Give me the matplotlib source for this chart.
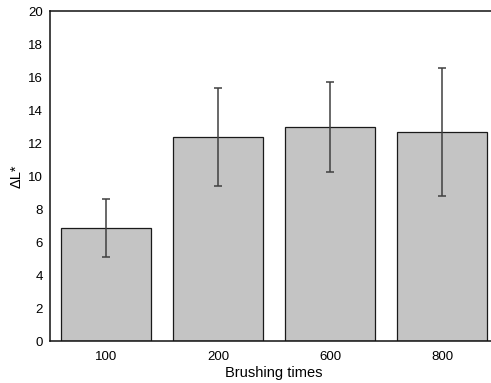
import matplotlib.pyplot as plt
import numpy as np

# Data
brushing_times = ["100", "200", "600", "800"]
delta_L = [6.87, 12.35, 13.0, 12.67]
delta_L_err = [1.77, 2.97, 2.72, 3.88]

plt.rcParams['font.family'] = ['Liberation Sans', 'DejaVu Sans']

fig = plt.figure(figsize=(4.91, 3.83), dpi=100)
# axes run slightly past the right edge of the picture, like the original crop
ax = fig.add_axes([50/491, (383-341.3)/383, (498-50)/491, (341.3-11)/383])

x = np.arange(len(brushing_times))
ax.bar(x, delta_L, width=0.8, color="#c4c4c4", edgecolor="#1a1a1a", linewidth=0.9,
       yerr=delta_L_err, error_kw=dict(ecolor="#404040", elinewidth=1.1, capsize=2.7, capthick=1.1))

ax.set_xlim(-0.5, 3.5)
ax.set_ylim(0, 20)
ax.set_yticks(np.arange(0, 21, 2))
ax.set_xticks(x)
ax.set_xticklabels(brushing_times)
ax.tick_params(axis="y", length=0, labelsize=9.5, pad=5)
ax.tick_params(axis="x", length=0, labelsize=9.5, pad=7)
for s in ax.spines.values():
	s.set_linewidth(1.1)
	s.set_color("#111111")

ax.set_xlabel("Brushing times", fontsize=10.5, labelpad=2)
ax.set_ylabel("ΔL*", fontsize=10.5, labelpad=3)

fig.savefig("out.png", dpi=100)
